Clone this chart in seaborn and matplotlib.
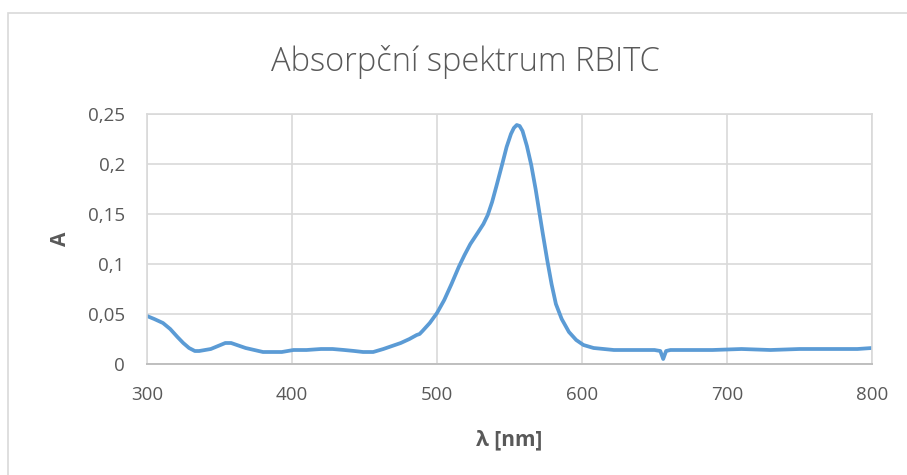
import matplotlib
matplotlib.use("Agg")
import matplotlib.pyplot as plt
import seaborn as sns
import pandas as pd
from matplotlib.patches import Rectangle
from matplotlib.ticker import FuncFormatter

wavelength = [300, 305, 311, 316, 321, 325, 329, 333, 336, 340, 344, 349, 354, 358, 362, 368,
              374, 380, 385, 393, 401, 410, 420, 428, 436, 443, 449, 456, 463, 469, 475, 481,
              486, 488, 490, 495, 500, 505, 510, 515, 519, 523, 528, 532, 535, 538, 541, 545,
              548, 551, 553, 555, 557, 559, 562, 565, 568, 570, 573, 576, 579, 582, 586, 591,
              596, 601, 608, 615, 622, 635, 650, 654, 656, 658, 661, 670, 690, 710, 730, 750,
              770, 790, 800]
absorbance = [0.048, 0.045, 0.041, 0.035, 0.027, 0.021, 0.016, 0.013, 0.013, 0.014, 0.015, 0.018,
              0.021, 0.021, 0.019, 0.016, 0.014, 0.012, 0.012, 0.012, 0.014, 0.014, 0.015, 0.015,
              0.014, 0.013, 0.012, 0.012, 0.015, 0.018, 0.021, 0.025, 0.029, 0.030, 0.033, 0.041,
              0.051, 0.064, 0.080, 0.097, 0.109, 0.120, 0.131, 0.140, 0.149, 0.162, 0.178, 0.200,
              0.217, 0.230, 0.236, 0.239, 0.238, 0.233, 0.218, 0.199, 0.175, 0.157, 0.130, 0.104,
              0.080, 0.060, 0.045, 0.032, 0.024, 0.019, 0.016, 0.015, 0.014, 0.014, 0.014, 0.013,
              0.005, 0.013, 0.014, 0.014, 0.014, 0.015, 0.014, 0.015, 0.015, 0.015, 0.016]

x_ticks = [300, 400, 500, 600, 700, 800]
y_ticks = [0, 0.05, 0.1, 0.15, 0.2, 0.25]
title = "Absorpční spektrum RBITC"
x_label = "λ [nm]"
y_label = "A"

df = pd.DataFrame({"wl": wavelength, "A": absorbance})

sns.set_theme(style="white")
plt.rcParams["font.family"] = ["Open Sans", "DejaVu Sans"]

fig = plt.figure(figsize=(9.07, 4.75), dpi=100)
ax = fig.add_axes([147 / 907, 1 - 364 / 475, (872 - 147) / 907, (364 - 114) / 475])

sns.lineplot(data=df, x="wl", y="A", ax=ax, color="#5B9BD5", linewidth=2.7)

ax.set_xlim(300, 800)
ax.set_ylim(0, 0.25)
ax.set_xticks(x_ticks)
ax.set_yticks(y_ticks)
ax.yaxis.set_major_formatter(FuncFormatter(lambda v, p: ("%g" % round(v, 2)).replace(".", ",")))
ax.grid(True, color="#D9D9D9", linewidth=1.2)
ax.set_axisbelow(True)
for s in ["left", "right", "top"]:
    ax.spines[s].set_color("#D9D9D9")
    ax.spines[s].set_linewidth(1.2)
ax.spines["bottom"].set_color("#BFBFBF")
ax.spines["bottom"].set_linewidth(1.4)
ax.tick_params(axis="both", length=0, labelsize=13.5, labelcolor="#595959")
ax.tick_params(axis="y", pad=16)
ax.tick_params(axis="x", pad=16)

ax.set_xlabel(x_label, fontsize=15, fontweight="bold", color="#595959", labelpad=18)
ax.set_ylabel(y_label, fontsize=15, fontweight="bold", color="#595959", labelpad=12)
fig.text(465 / 907, 1 - 62 / 475, title, ha="center", va="center",
         fontsize=23.5, color="#595959", fontweight="light")

fig.patches.append(Rectangle((8 / 907, -0.1), 1.2, 1 - 13 / 475 + 0.1, transform=fig.transFigure,
                             fill=False, edgecolor="#D9D9D9", linewidth=1.2))

fig.savefig("out.png", dpi=100)
